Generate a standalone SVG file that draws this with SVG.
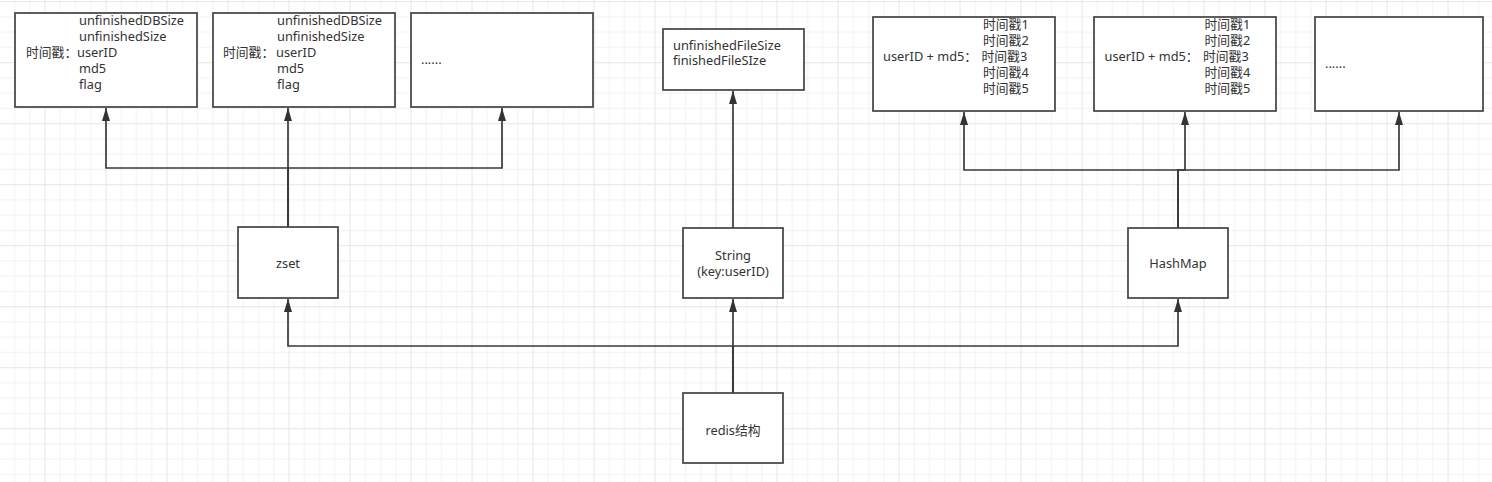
<svg xmlns="http://www.w3.org/2000/svg" width="1492" height="482" viewBox="0 0 1492 482">
<style>
.box{fill:#ffffff;stroke:#424242;stroke-width:1.7}
.t{font-family:"Noto Sans","Noto Sans CJK SC",sans-serif;font-size:12.8px;fill:#333333}
.c{text-anchor:middle}
.edge{fill:none;stroke:#3a3a3a;stroke-width:1.7}
</style>
<defs>
<pattern id="grid" patternUnits="userSpaceOnUse" x="44.55" y="1.2" width="61" height="61">
<rect x="0" y="0" width="61" height="61" fill="#ffffff"/>
<rect x="15.25" y="0" width="1" height="61" fill="#f2f2f2"/>
<rect x="30.5" y="0" width="1" height="61" fill="#f2f2f2"/>
<rect x="45.75" y="0" width="1" height="61" fill="#f2f2f2"/>
<rect x="0" y="15.25" width="61" height="1" fill="#f2f2f2"/>
<rect x="0" y="30.5" width="61" height="1" fill="#f2f2f2"/>
<rect x="0" y="45.75" width="61" height="1" fill="#f2f2f2"/>
<rect x="0" y="0" width="1" height="61" fill="#e6e6e6"/>
<rect x="0" y="0" width="61" height="1" fill="#e6e6e6"/>
</pattern>
<marker id="arr" markerUnits="userSpaceOnUse" markerWidth="14" markerHeight="10" viewBox="0 0 14 10" refX="13" refY="5" orient="auto">
<path d="M0,1 L13,5 L0,9 Z" fill="#333333"/>
</marker>
</defs>
<rect x="0" y="0" width="1492" height="482" fill="url(#grid)"/>

<g id="connectors">
<path class="edge" d="M288,227 V168 H106 V108" marker-end="url(#arr)"/>
<path class="edge" d="M288,227 V108" marker-end="url(#arr)"/>
<path class="edge" d="M288,227 V168 H502 V108" marker-end="url(#arr)"/>
<path class="edge" d="M733,228 V91" marker-end="url(#arr)"/>
<path class="edge" d="M1178,228 V170 H964 V112" marker-end="url(#arr)"/>
<path class="edge" d="M1178,228 V170 H1185 V112" marker-end="url(#arr)"/>
<path class="edge" d="M1178,228 V170 H1399 V112" marker-end="url(#arr)"/>
<path class="edge" d="M733,393 V299" marker-end="url(#arr)"/>
<path class="edge" d="M733,393 V346 H288 V299" marker-end="url(#arr)"/>
<path class="edge" d="M733,393 V346 H1178 V299" marker-end="url(#arr)"/>
</g>

<g id="zset-item1">
<rect class="box" x="15" y="13" width="182" height="94"/>
<text class="t" x="79" y="25">unfinishedDBSize</text>
<text class="t" x="79" y="41">unfinishedSize</text>
<text class="t" x="26" y="57">时间戳：</text>
<text class="t" x="77" y="57">userID</text>
<text class="t" x="79" y="73">md5</text>
<text class="t" x="79" y="89">flag</text>
</g>
<g id="zset-item2">
<rect class="box" x="213" y="13" width="182" height="94"/>
<text class="t" x="277" y="25">unfinishedDBSize</text>
<text class="t" x="277" y="41">unfinishedSize</text>
<text class="t" x="223" y="57">时间戳：</text>
<text class="t" x="276" y="57">userID</text>
<text class="t" x="277" y="73">md5</text>
<text class="t" x="277" y="89">flag</text>
</g>
<g id="zset-item3">
<rect class="box" x="411" y="13" width="182" height="94"/>
<text class="t" x="421" y="64">......</text>
</g>
<g id="string-value">
<rect class="box" x="663" y="29" width="141" height="61"/>
<text class="t" x="673" y="49.5">unfinishedFileSize</text>
<text class="t" x="673" y="65">finishedFileSIze</text>
</g>
<g id="hash-item1">
<rect class="box" x="873" y="17" width="182" height="94"/>
<text class="t" x="983" y="29">时间戳1</text>
<text class="t" x="983" y="45">时间戳2</text>
<text class="t" x="883" y="61">userID + md5：</text>
<text class="t" x="981.5" y="61">时间戳3</text>
<text class="t" x="983" y="77">时间戳4</text>
<text class="t" x="983" y="93">时间戳5</text>
</g>
<g id="hash-item2">
<rect class="box" x="1094" y="17" width="182" height="94"/>
<text class="t" x="1204.5" y="29">时间戳1</text>
<text class="t" x="1204.5" y="45">时间戳2</text>
<text class="t" x="1104.5" y="61">userID + md5：</text>
<text class="t" x="1203" y="61">时间戳3</text>
<text class="t" x="1204.5" y="77">时间戳4</text>
<text class="t" x="1204.5" y="93">时间戳5</text>
</g>
<g id="hash-item3">
<rect class="box" x="1315" y="17" width="168" height="94"/>
<text class="t" x="1325" y="68">......</text>
</g>
<g id="zset">
<rect class="box" x="238" y="227" width="100" height="71"/>
<text class="t c" x="288" y="268">zset</text>
</g>
<g id="string">
<rect class="box" x="683" y="228" width="100" height="70"/>
<text class="t c" x="733" y="260">String</text>
<text class="t c" x="733" y="276">(key:userID)</text>
</g>
<g id="hashmap">
<rect class="box" x="1128" y="228" width="100" height="70"/>
<text class="t c" x="1178" y="267.5">HashMap</text>
</g>
<g id="redis">
<rect class="box" x="683" y="393" width="100" height="70"/>
<text class="t c" x="733" y="434.5">redis结构</text>
</g>
</svg>
